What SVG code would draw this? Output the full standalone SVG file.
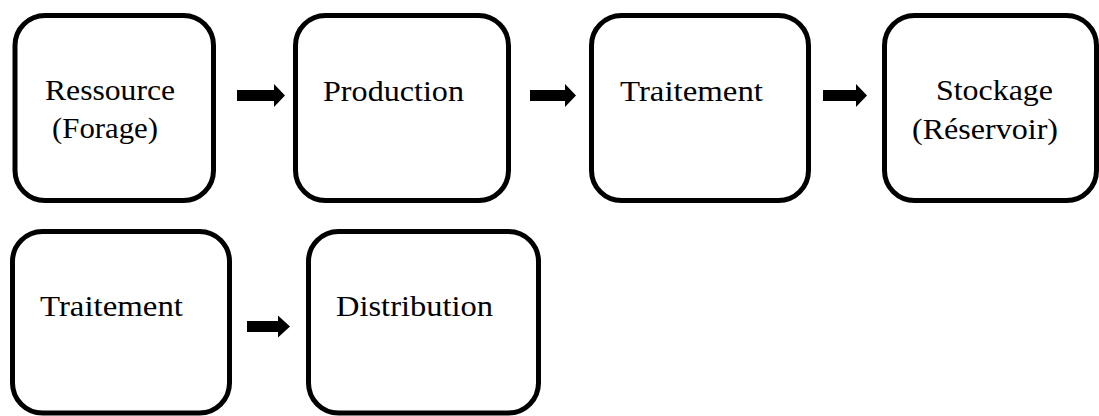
<svg xmlns="http://www.w3.org/2000/svg" width="1099" height="416" viewBox="0 0 1099 416">
<style>
.box{fill:#fff;stroke:#000;stroke-width:5}
.lbl{font-family:"Liberation Serif","Times New Roman",Times,serif;font-size:29px;fill:#000}
.arr{fill:#000}
</style>
<rect width="1099" height="416" fill="#fff"/>
<g id="connectors">
<path class="arr" d="M237,90 H274 V84 L285,95.5 L274,107 V101 H237 Z"/>
<path class="arr" d="M530,90 H565 V84 L576,95.5 L565,107 V101 H530 Z"/>
<path class="arr" d="M823,90 H856 V84 L867,95.5 L856,107 V101 H823 Z"/>
<path class="arr" d="M247,321 H278 V315.5 L290,326.5 L278,337.5 V332 H247 Z"/>
</g>
<g id="node-ressource">
<rect class="box" x="15" y="15.5" width="198.5" height="185" rx="30"/>
<text class="lbl" x="45" y="100" textLength="130" lengthAdjust="spacingAndGlyphs">Ressource</text>
<text class="lbl" x="52" y="138" textLength="106" lengthAdjust="spacingAndGlyphs">(Forage)</text>
</g>
<g id="node-production">
<rect class="box" x="295.5" y="15.5" width="213" height="185" rx="30"/>
<text class="lbl" x="323" y="101" textLength="141" lengthAdjust="spacingAndGlyphs">Production</text>
</g>
<g id="node-traitement1">
<rect class="box" x="591.5" y="15.5" width="217" height="185" rx="30"/>
<text class="lbl" x="620" y="101" textLength="143" lengthAdjust="spacingAndGlyphs">Traitement</text>
</g>
<g id="node-stockage">
<rect class="box" x="884.5" y="15.5" width="212" height="185" rx="30"/>
<text class="lbl" x="936" y="100" textLength="117" lengthAdjust="spacingAndGlyphs">Stockage</text>
<text class="lbl" x="912" y="139" textLength="146" lengthAdjust="spacingAndGlyphs">(Réservoir)</text>
</g>
<g id="node-traitement2">
<rect class="box" x="12.5" y="231.5" width="217" height="181.5" rx="30"/>
<text class="lbl" x="40" y="316" textLength="143" lengthAdjust="spacingAndGlyphs">Traitement</text>
</g>
<g id="node-distribution">
<rect class="box" x="308.5" y="231.5" width="230" height="181.5" rx="30"/>
<text class="lbl" x="336" y="316" textLength="157" lengthAdjust="spacingAndGlyphs">Distribution</text>
</g>
</svg>
